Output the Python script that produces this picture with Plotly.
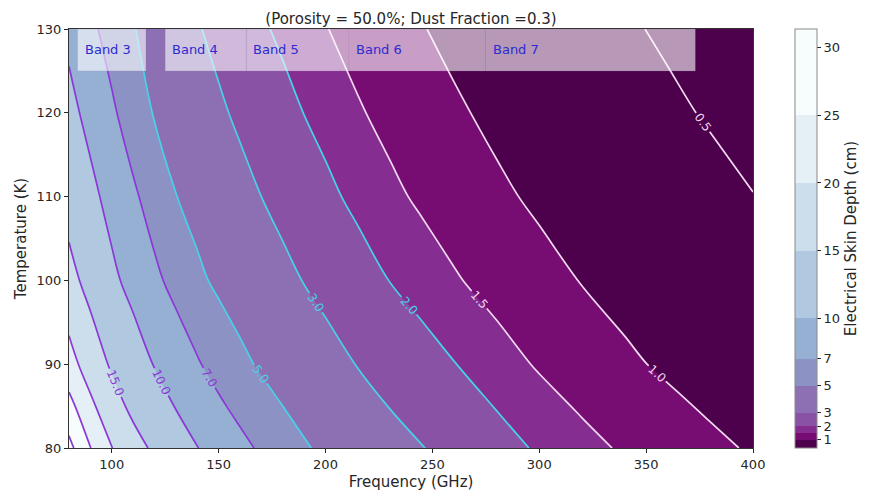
import plotly.graph_objects as go

# ---------------- data ----------------
freq = [80, 90, 100, 110, 120, 130, 140, 150, 160, 170, 180, 190, 200,
        215, 230, 245, 260, 280, 300, 320, 340, 360, 380, 400]          # GHz
temp = [80, 85, 90, 100, 110, 120, 130]                                 # K

depth_t80 = [31.4, 25.1, 20.1, 16.8, 14.2, 11.9, 10.08, 8.72, 7.61, 6.68, 5.86, 5.18,
             4.64, 3.99, 3.46, 3.04, 2.66, 2.25, 1.92, 1.655, 1.435, 1.24, 1.087, 0.957]
depth_t85 = [26.6, 21.0, 16.9, 13.9, 11.6, 9.84, 8.46, 7.34, 6.41, 5.64, 5.0, 4.46,
             4.0, 3.43, 2.97, 2.60, 2.30, 1.97, 1.67, 1.44, 1.24, 1.08, 0.947, 0.836]
depth_t90 = [21.8, 17.7, 14.4, 11.8, 9.83, 8.35, 7.19, 6.21, 5.41, 4.77, 4.24, 3.80,
             3.43, 2.96, 2.58, 2.27, 2.02, 1.70, 1.45, 1.24, 1.07, 0.936, 0.821, 0.726]
depth_t100 = [16.5, 13.45, 10.76, 8.87, 7.47, 6.31, 5.36, 4.66, 4.12, 3.67, 3.29, 2.96,
              2.66, 2.29, 1.99, 1.75, 1.55, 1.32, 1.135, 0.984, 0.861, 0.759, 0.673, 0.601]
depth_t110 = [13.2, 10.9, 8.86, 7.35, 6.07, 5.04, 4.37, 3.82, 3.37, 3.0, 2.67, 2.39,
              2.15, 1.85, 1.61, 1.42, 1.25, 1.075, 0.930, 0.811, 0.712, 0.631, 0.562, 0.504]
depth_t120 = [11.0, 8.97, 7.34, 5.94, 4.88, 4.18, 3.63, 3.18, 2.80, 2.48, 2.22, 1.99,
              1.80, 1.55, 1.36, 1.19, 1.06, 0.908, 0.787, 0.688, 0.606, 0.538, 0.481, 0.432]
depth_t130 = [9.2, 7.49, 6.15, 5.11, 4.26, 3.61, 3.09, 2.69, 2.36, 2.09, 1.87, 1.68,
              1.52, 1.32, 1.15, 1.02, 0.900, 0.776, 0.676, 0.594, 0.527, 0.470, 0.422, 0.381]
depth = [depth_t80, depth_t85, depth_t90, depth_t100, depth_t110, depth_t120, depth_t130]

fill_levels = [1, 1.5, 2, 3, 5, 7, 10, 15, 20, 25]
band_colors = ["#4d004b", "#770c72", "#852d90", "#8a52a5", "#8c70b3", "#8c92c4",
               "#96b0d4", "#b0c8e0", "#ccddec", "#e5eff6", "#f7fcfd"]

line_levels = [0.5, 1.0, 1.5, 2.0, 3.0, 5.0, 7.0, 10.0, 15.0, 20.0, 25.0, 30.0]
PINK, CYAN, PURPLE = "#f3d9f1", "#45d3ea", "#8b38d6"
line_colors = [PINK, PINK, PINK, CYAN, CYAN, CYAN, PURPLE, PURPLE, PURPLE, PURPLE, PURPLE, PURPLE]

alma_names = ["Band 3", "Band 4", "Band 5", "Band 6", "Band 7"]
alma_low = [84, 125, 163, 211, 275]
alma_high = [116, 163, 211, 275, 373]
box_bottom, box_top = 125, 130

cbar_ticks = [1, 2, 3, 5, 7, 10, 15, 20, 25, 30]

FONT = "DejaVu Sans"
TXT = "#262626"
SMOOTH = 1.0

fig = go.Figure()

# filled bands: each layer shades the region where depth >= level
# (plotly shades the part that breaks the "<" constraint), stacked over the darkest background
for lvl, col in zip(fill_levels, band_colors[1:]):
    fig.add_trace(go.Contour(
        x=freq, y=temp, z=depth,
        contours=dict(type="constraint", operation="<", value=lvl),
        fillcolor=col,
        line=dict(width=0, color=col, smoothing=SMOOTH),
        showscale=False, hoverinfo="skip",
    ))

# contour lines with labels
for lvl, col in zip(line_levels, line_colors):
    fig.add_trace(go.Contour(
        x=freq, y=temp, z=depth,
        autocontour=False,
        contours=dict(start=lvl, end=lvl, size=1, coloring="none",
                      showlabels=True, labelformat=".1f",
                      labelfont=dict(family=FONT, size=12, color=col)),
        line=dict(color=col, width=1.7, smoothing=SMOOTH),
        showscale=False, hoverinfo="skip",
    ))

# colour bar (non-uniform discrete levels)
zmin = min(min(r) for r in depth)
zmax = max(max(r) for r in depth)
edges = [zmin] + fill_levels + [zmax]
cscale = []
for i, col in enumerate(band_colors):
    a = (edges[i] - zmin) / (zmax - zmin)
    b = (edges[i + 1] - zmin) / (zmax - zmin)
    cscale += [[a, col], [b, col]]

fig.add_trace(go.Scatter(
    x=[None], y=[None], mode="markers", showlegend=False, hoverinfo="skip",
    marker=dict(color=[zmin], colorscale=cscale, cmin=zmin, cmax=zmax, showscale=True,
                colorbar=dict(
                    x=1.0615, xanchor="left", xpad=0, y=0.5, yanchor="middle", ypad=0,
                    len=1, lenmode="fraction", thickness=22,
                    outlinewidth=1, outlinecolor="#8a8a8a",
                    tickvals=cbar_ticks, ticks="outside", ticklen=4, tickcolor=TXT,
                    tickfont=dict(family=FONT, size=13, color=TXT),
                    title=dict(text="Electrical Skin Depth (cm)", side="right",
                               font=dict(family=FONT, size=15, color=TXT)),
                )),
))

# ALMA band boxes
for name, lo, hi in zip(alma_names, alma_low, alma_high):
    fig.add_shape(type="rect", xref="x", yref="y", x0=lo, x1=hi, y0=box_bottom, y1=box_top,
                  fillcolor="rgba(255,255,255,0.6)", line=dict(width=0.6, color="rgba(150,130,170,0.35)"),
                  layer="above")
    fig.add_annotation(x=lo, y=(box_bottom + box_top) / 2, xref="x", yref="y",
                       text=name, showarrow=False, xanchor="left", yanchor="middle",
                       xshift=5, font=dict(family=FONT, size=13, color="#2b2bd0"))

fig.update_layout(
    width=873, height=499,
    margin=dict(l=69, r=105, t=29, b=44),
    paper_bgcolor="white", plot_bgcolor=band_colors[0],
    font=dict(family=FONT, color=TXT),
    title=dict(text="(Porosity = 50.0%; Dust Fraction =0.3)", x=0.5, xref="paper",
               y=1, yref="paper", yanchor="bottom", xanchor="center", pad=dict(b=5),
               font=dict(family=FONT, size=15, color=TXT)),
    showlegend=False,
)
fig.update_xaxes(range=[80, 400], dtick=50, tick0=0, ticks="outside", ticklen=4, tickcolor=TXT,
                 showgrid=False, zeroline=False, showline=True, linecolor="#333", linewidth=1, mirror=True,
                 tickfont=dict(family=FONT, size=13, color=TXT),
                 title=dict(text="Frequency (GHz)", standoff=5, font=dict(family=FONT, size=15, color=TXT)))
fig.update_yaxes(range=[80, 130], dtick=10, tick0=0, ticks="outside", ticklen=4, tickcolor=TXT,
                 showgrid=False, zeroline=False, showline=True, linecolor="#333", linewidth=1, mirror=True,
                 tickfont=dict(family=FONT, size=13, color=TXT),
                 title=dict(text="Temperature (K)", standoff=6, font=dict(family=FONT, size=15, color=TXT)))

fig.write_html("out.html")
